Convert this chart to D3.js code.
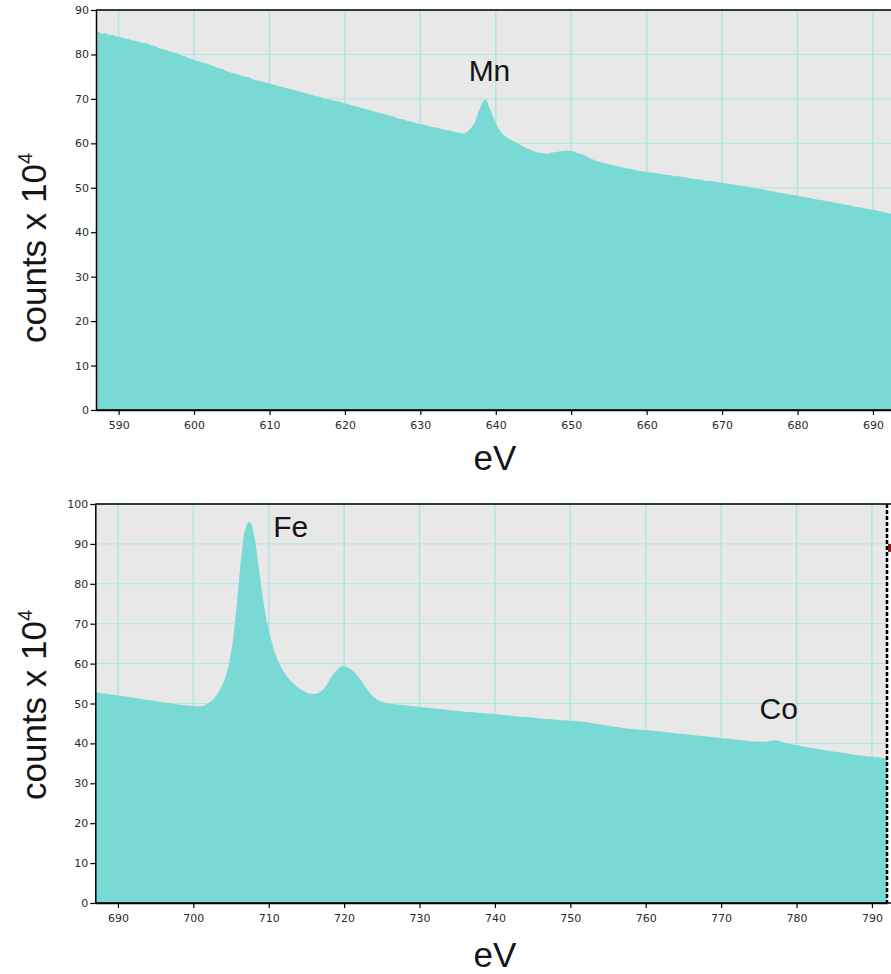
<!DOCTYPE html>
<html>
<head>
<meta charset="utf-8">
<script src="https://cdn.jsdelivr.net/npm/d3@7"></script>
<style>
  body { margin: 0; background: #fff; overflow: hidden; }
  svg { display: block; }
</style>
</head>
<body>
<svg id="chart" width="891" height="974"></svg>
<script>
// spectrum bins, 0.5 eV wide, counts in units of 10^4
var binWidth = 0.5;

var mnStart = 587;
var mnCounts = [
  85.2, 84.6, 84.8, 84.3, 84.4, 84.0, 83.9, 83.6, 83.5, 83.2,
  83.0, 82.8, 82.6, 82.5, 82.0, 82.0, 81.5, 81.2, 81.0, 80.8,
  80.4, 80.3, 79.8, 79.6, 79.2, 79.0, 78.6, 78.4, 78.1, 77.9,
  77.5, 77.3, 76.9, 76.7, 76.3, 76.0, 75.7, 75.6, 75.2, 75.0,
  74.9, 74.4, 74.2, 74.0, 73.8, 73.6, 73.3, 73.2, 72.8, 72.7,
  72.4, 72.2, 72.0, 71.8, 71.5, 71.3, 71.1, 70.8, 70.6, 70.4,
  70.1, 70.0, 69.7, 69.5, 69.4, 69.0, 68.9, 68.6, 68.4, 68.2,
  67.9, 67.7, 67.5, 67.2, 67.0, 66.8, 66.6, 66.3, 66.1, 65.8,
  65.5, 65.4, 65.1, 64.9, 64.7, 64.4, 64.3, 64.1, 63.8, 63.6,
  63.5, 63.3, 63.0, 62.9, 62.7, 62.5, 62.3, 62.2, 62.6, 63.5,
  64.8, 67.2, 69.4, 69.9, 67.6, 65.5, 63.6, 62.3, 61.6, 61.0,
  60.6, 60.2, 59.6, 59.2, 58.8, 58.5, 58.1, 57.9, 57.8, 57.6,
  57.8, 58.0, 58.1, 58.3, 58.4, 58.3, 58.2, 57.9, 57.6, 57.3,
  56.8, 56.5, 56.1, 55.9, 55.6, 55.4, 55.2, 55.0, 54.8, 54.6,
  54.4, 54.3, 54.1, 53.9, 53.8, 53.6, 53.5, 53.4, 53.3, 53.1,
  53.0, 52.9, 52.8, 52.6, 52.6, 52.4, 52.3, 52.1, 52.0, 51.9,
  51.8, 51.6, 51.5, 51.5, 51.3, 51.2, 51.1, 50.9, 50.8, 50.7,
  50.5, 50.4, 50.3, 50.1, 49.9, 49.8, 49.7, 49.5, 49.3, 49.2,
  49.0, 48.9, 48.7, 48.6, 48.4, 48.3, 48.1, 47.9, 47.8, 47.7,
  47.5, 47.3, 47.2, 47.0, 46.9, 46.7, 46.6, 46.4, 46.2, 46.1,
  45.9, 45.7, 45.6, 45.4, 45.3, 45.1, 45.0, 44.8, 44.6, 44.4,
  44.2, 44.0
];
var mnTicksX = [590, 600, 610, 620, 630, 640, 650, 660, 670, 680, 690];
var mnTicksY = [0, 10, 20, 30, 40, 50, 60, 70, 80, 90];
var mnLabels = [{ text: "Mn", ev: 636.4, y: 74 }];

var feStart = 687;
var feCounts = [
  52.8, 52.5, 52.6, 52.3, 52.2, 52.1, 51.9, 51.8, 51.7, 51.5,
  51.4, 51.2, 51.1, 50.9, 50.8, 50.7, 50.5, 50.4, 50.2, 50.1,
  49.9, 49.8, 49.7, 49.6, 49.5, 49.4, 49.3, 49.3, 49.4, 49.8,
  50.4, 51.2, 52.5, 54.2, 56.5, 60.0, 65.5, 74.5, 85.0, 93.0,
  95.6, 95.0, 90.5, 83.0, 76.0, 70.5, 66.5, 63.0, 60.6, 58.8,
  57.2, 56.0, 55.1, 54.2, 53.5, 53.0, 52.6, 52.4, 52.4, 52.8,
  53.5, 54.8, 56.5, 57.8, 58.8, 59.4, 59.3, 58.8, 58.0, 57.0,
  55.8, 54.4, 53.0, 51.9, 51.1, 50.6, 50.3, 50.1, 49.9, 49.8,
  49.7, 49.6, 49.5, 49.4, 49.3, 49.2, 49.1, 49.0, 48.9, 48.8,
  48.7, 48.6, 48.5, 48.4, 48.3, 48.2, 48.1, 48.0, 47.9, 47.8,
  47.8, 47.7, 47.6, 47.5, 47.4, 47.4, 47.3, 47.2, 47.1, 47.0,
  46.9, 46.8, 46.7, 46.6, 46.6, 46.5, 46.4, 46.3, 46.2, 46.1,
  46.1, 46.0, 45.9, 45.8, 45.8, 45.7, 45.7, 45.6, 45.5, 45.4,
  45.3, 45.1, 45.0, 44.8, 44.7, 44.5, 44.4, 44.2, 44.1, 43.9,
  43.8, 43.7, 43.6, 43.5, 43.4, 43.3, 43.3, 43.2, 43.1, 43.0,
  42.9, 42.8, 42.7, 42.6, 42.5, 42.4, 42.3, 42.2, 42.1, 42.0,
  41.9, 41.8, 41.7, 41.6, 41.5, 41.4, 41.3, 41.2, 41.1, 41.0,
  40.9, 40.8, 40.7, 40.6, 40.5, 40.5, 40.4, 40.4, 40.5, 40.7,
  40.8, 40.6, 40.2, 40.0, 39.8, 39.6, 39.5, 39.3, 39.1, 38.9,
  38.8, 38.6, 38.5, 38.3, 38.2, 38.0, 37.9, 37.7, 37.6, 37.4,
  37.3, 37.1, 37.0, 36.9, 36.8, 36.7, 36.6, 36.5, 36.4, 36.3
];
var feTicksX = [690, 700, 710, 720, 730, 740, 750, 760, 770, 780, 790];
var feTicksY = [0, 10, 20, 30, 40, 50, 60, 70, 80, 90, 100];
var feLabels = [{ text: "Fe", ev: 710.6, y: 91.7 }, { text: "Co", ev: 775.1, y: 46.0 }];
var feCursor = { ev: 792, y: 89 };

var fillColor = "#79d9d4",
    plotBg = "#e8e8e8",
    gridColor = "#aee6e2";

var svg = d3.select("#chart");

function drawPanel(p, idx) {
  var x = d3.scaleLinear().domain(p.xDomain).range([p.left, p.right]);
  var y = d3.scaleLinear().domain(p.yDomain).range([p.bottom, p.top]);

  var g = svg.append("g");

  // plot background
  g.append("rect")
    .attr("x", p.left).attr("y", p.top)
    .attr("width", p.right - p.left).attr("height", p.bottom - p.top)
    .attr("fill", plotBg);

  // grid lines
  g.selectAll(".vgrid").data(p.ticksX).enter().append("line")
    .attr("x1", function (d) { return x(d); }).attr("x2", function (d) { return x(d); })
    .attr("y1", p.top).attr("y2", p.bottom)
    .attr("stroke", gridColor).attr("stroke-width", 1.5);
  g.selectAll(".hgrid").data(p.ticksY).enter().append("line")
    .attr("x1", p.left).attr("x2", p.right)
    .attr("y1", function (d) { return y(d); }).attr("y2", function (d) { return y(d); })
    .attr("stroke", gridColor).attr("stroke-width", 1);

  // spectrum: one point per bin centre, held flat out to the range edges
  var n = p.counts.length;
  var pts = p.counts.map(function (c, i) { return { ev: p.start + (i + 0.5) * binWidth, c: c }; });
  pts.unshift({ ev: p.start, c: p.counts[0] });
  pts.push({ ev: p.start + n * binWidth, c: p.counts[n - 1] });

  svg.append("clipPath").attr("id", "clip" + idx)
    .append("rect")
    .attr("x", p.left).attr("y", p.top)
    .attr("width", p.right - p.left).attr("height", p.bottom - p.top);

  var area = d3.area()
    .x(function (d) { return x(d.ev); })
    .y0(y(0))
    .y1(function (d) { return y(d.c); });

  g.append("path")
    .datum(pts)
    .attr("clip-path", "url(#clip" + idx + ")")
    .attr("fill", fillColor)
    .attr("d", area);

  // frame: top border
  g.append("line")
    .attr("x1", p.left).attr("x2", 891)
    .attr("y1", p.top).attr("y2", p.top)
    .attr("stroke", "#000").attr("stroke-width", 1.5);

  // axes
  var xAxis = g.append("g")
    .attr("transform", "translate(0," + p.bottom + ")")
    .call(d3.axisBottom(x).tickValues(p.ticksX).tickSize(5).tickSizeOuter(0).tickPadding(6).tickFormat(d3.format("d")));
  var yAxis = g.append("g")
    .attr("transform", "translate(" + p.left + ",0)")
    .call(d3.axisLeft(y).tickValues(p.ticksY).tickSize(5).tickSizeOuter(0).tickPadding(2).tickFormat(d3.format("d")));

  [xAxis, yAxis].forEach(function (a) {
    a.select(".domain").attr("stroke", "#000").attr("stroke-width", 1.5);
    a.selectAll(".tick line").attr("stroke", "#000").attr("stroke-width", 1.2);
    a.selectAll(".tick text")
      .attr("fill", "#2a2a2a")
      .style("font-family", "'DejaVu Sans', Verdana, sans-serif")
      .style("font-size", "11px");
  });

  // bottom axis line runs to the window edge
  g.append("line")
    .attr("x1", p.left).attr("x2", 891)
    .attr("y1", p.bottom).attr("y2", p.bottom)
    .attr("stroke", "#000").attr("stroke-width", 1.5);

  // peak labels
  g.selectAll(".peak").data(p.labels).enter().append("text")
    .attr("x", function (d) { return x(d.ev); })
    .attr("y", function (d) { return y(d.y); })
    .attr("fill", "#151515")
    .style("font-family", "'Liberation Sans', Arial, sans-serif")
    .style("font-size", "30px")
    .text(function (d) { return d.text; });

  // axis titles
  var yTitle = g.append("text")
    .attr("transform", "translate(" + p.titleX + "," + p.titleY + ") rotate(-90)")
    .attr("fill", "#151515")
    .style("font-family", "'Liberation Sans', Arial, sans-serif")
    .style("font-size", "35px");
  yTitle.append("tspan").text("counts x 10");
  yTitle.append("tspan").attr("dy", -14).style("font-size", "20px").text("4");

  g.append("text")
    .attr("x", p.evX).attr("y", p.evY)
    .attr("text-anchor", "middle")
    .attr("fill", "#151515")
    .style("font-family", "'Liberation Sans', Arial, sans-serif")
    .style("font-size", "35px")
    .text("eV");

  return { x: x, y: y, g: g };
}

var top = drawPanel({
  start: mnStart, counts: mnCounts, xDomain: [587, 692.5], yDomain: [0, 90],
  ticksX: mnTicksX, ticksY: mnTicksY, labels: mnLabels,
  left: 96, right: 891.8, top: 10, bottom: 410,
  titleX: 46, titleY: 343, evX: 495, evY: 470
}, 0);

var bot = drawPanel({
  start: feStart, counts: feCounts, xDomain: [687, 792], yDomain: [0, 100],
  ticksX: feTicksX, ticksY: feTicksY, labels: feLabels,
  left: 95.3, right: 887, top: 504, bottom: 903,
  titleX: 46, titleY: 800, evX: 495, evY: 967
}, 1);

// cursor line and marker on the lower panel
bot.g.append("line")
  .attr("x1", bot.x(feCursor.ev)).attr("x2", bot.x(feCursor.ev))
  .attr("y1", bot.y(100)).attr("y2", bot.y(0))
  .attr("stroke", "#000").attr("stroke-width", 2.5)
  .attr("stroke-dasharray", "4,2");
bot.g.append("rect")
  .attr("x", bot.x(feCursor.ev) + 1).attr("y", bot.y(feCursor.y) - 4)
  .attr("width", 8).attr("height", 8)
  .attr("fill", "#8b1a14");
</script>
</body>
</html>
